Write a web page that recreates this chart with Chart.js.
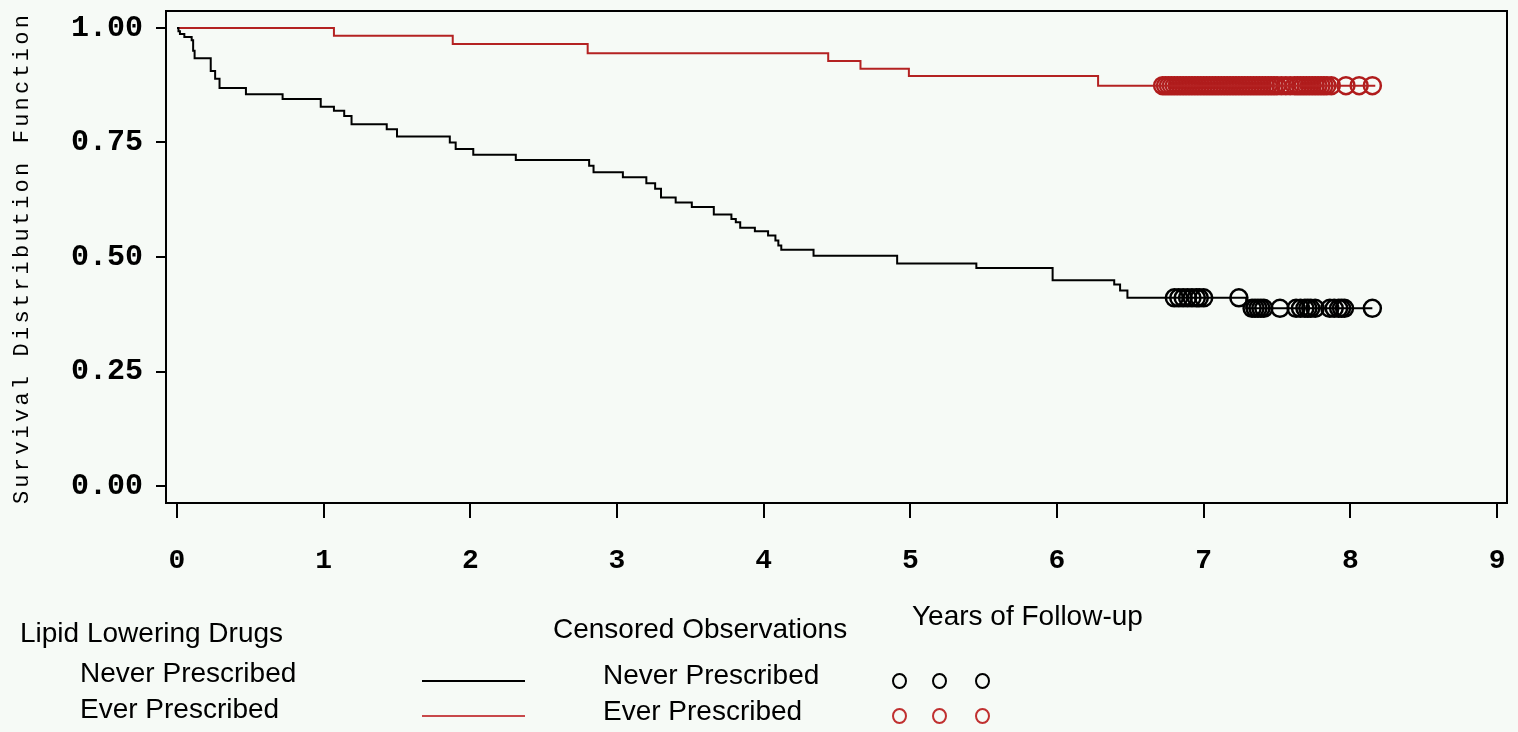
<!DOCTYPE html>
<html>
<head>
<meta charset="utf-8">
<script src="https://cdn.jsdelivr.net/npm/chart.js@4.4.1/dist/chart.umd.min.js"></script>
<style>
  body { margin: 0; background: #f6faf6; }
  #wrap { position: relative; width: 1518px; height: 732px; }
  canvas { position: absolute; left: 0; top: 0; }
  .txt { position: absolute; font-family: "Liberation Sans", Arial, sans-serif; font-size: 28px; line-height: 28px; color: #000; white-space: nowrap; }
  .lline { position: absolute; width: 103px; height: 2px; }
  .circ { position: absolute; width: 11px; height: 12px; border-radius: 50%; border: 2.5px solid; box-sizing: content-box; }
</style>
</head>
<body>
<div id="wrap">
  <canvas id="km" width="1518" height="732"></canvas>
  <div class="txt" style="left:912px;top:602px">Years of Follow-up</div>
  <div class="txt" style="left:20px;top:619px">Lipid Lowering Drugs</div>
  <div class="txt" style="left:80px;top:659px">Never Prescribed</div>
  <div class="txt" style="left:80px;top:695px">Ever Prescribed</div>
  <div class="lline" style="left:422px;top:680px;background:#000"></div>
  <div class="lline" style="left:422px;top:715px;background:#c8484a"></div>
  <div class="txt" style="left:553px;top:615px">Censored Observations</div>
  <div class="txt" style="left:603px;top:661px">Never Prescribed</div>
  <div class="txt" style="left:603px;top:697px">Ever Prescribed</div>
  <div class="circ" style="left:892px;top:673px;border-color:#000"></div>
  <div class="circ" style="left:932px;top:673px;border-color:#000"></div>
  <div class="circ" style="left:975px;top:673px;border-color:#000"></div>
  <div class="circ" style="left:892px;top:708px;border-color:#c03030"></div>
  <div class="circ" style="left:932px;top:708px;border-color:#c03030"></div>
  <div class="circ" style="left:975px;top:708px;border-color:#c03030"></div>
</div>
<script>
// tick labels
const xTicks = [0, 1, 2, 3, 4, 5, 6, 7, 8, 9];
const yTicks = [0, 0.25, 0.5, 0.75, 1];

// Never prescribed - step curve
const neverTime = [0, 0.01, 0.02, 0.05, 0.10, 0.11, 0.12, 0.23, 0.26, 0.29,
  0.47, 0.72, 0.98, 1.07, 1.14, 1.19, 1.43, 1.50, 1.86, 1.90,
  2.02, 2.31, 2.81, 2.84, 3.04, 3.20, 3.26, 3.30, 3.40, 3.51,
  3.66, 3.78, 3.81, 3.84, 3.94, 4.03, 4.08, 4.10, 4.12, 4.34,
  4.91, 5.45, 5.97, 6.39, 6.43, 6.48, 7.29, 8.15];
const neverSurv = [1.000, 0.993, 0.987, 0.980, 0.973, 0.950, 0.934, 0.906, 0.889, 0.869,
  0.855, 0.845, 0.828, 0.819, 0.808, 0.790, 0.779, 0.763, 0.750, 0.736,
  0.723, 0.712, 0.699, 0.685, 0.674, 0.661, 0.649, 0.630, 0.619, 0.609,
  0.593, 0.583, 0.576, 0.564, 0.556, 0.547, 0.536, 0.525, 0.516, 0.503,
  0.486, 0.476, 0.449, 0.440, 0.427, 0.411, 0.388, 0.388];
const neverCensored = [6.80, 6.83, 6.86, 6.89, 6.92, 6.95, 6.97, 7.00, 7.24,
  7.33, 7.35, 7.37, 7.39, 7.41, 7.52, 7.63, 7.66, 7.69, 7.71, 7.73, 7.76,
  7.86, 7.89, 7.92, 7.94, 7.96, 8.15];

// Ever prescribed - step curve
const everTime = [0, 1.07, 1.88, 2.80, 4.44, 4.66, 4.99, 6.28, 8.17];
const everSurv = [1.000, 0.983, 0.965, 0.945, 0.928, 0.911, 0.895, 0.874, 0.874];
const everCensored = [6.72, 6.74, 6.76, 6.78, 6.80, 6.82, 6.84, 6.86, 6.88, 6.90,
  6.92, 6.94, 6.96, 6.98, 7.00, 7.02, 7.04, 7.06, 7.08, 7.10,
  7.12, 7.14, 7.16, 7.18, 7.20, 7.22, 7.24, 7.26, 7.28, 7.30,
  7.32, 7.34, 7.36, 7.38, 7.40, 7.42, 7.44, 7.46, 7.48, 7.50,
  7.53, 7.56, 7.59, 7.62, 7.64, 7.66, 7.68, 7.70, 7.72, 7.74,
  7.76, 7.78, 7.80, 7.82, 7.84, 7.87, 7.97, 8.06, 8.15];

// nilai survival pada waktu t (dari kurva step)
const survAt = (times, surv, t) => {
  let v = surv[0];
  for (let i = 0; i < times.length; i++) {
    if (times[i] <= t) v = surv[i];
  }
  return v;
};

const toPoints = (times, surv) => times.map((t, i) => ({ x: t, y: surv[i] }));
const censPoints = (cens, times, surv) => cens.map((t) => ({ x: t, y: survAt(times, surv, t) }));

const tickFont = { family: "'Liberation Mono', 'DejaVu Sans Mono', monospace", weight: "bold" };

// frame + judul sumbu y
const framePlugin = {
  id: "frame",
  afterDraw(chart) {
    const { ctx, chartArea: a } = chart;
    ctx.save();
    ctx.strokeStyle = "#000";
    ctx.lineWidth = 2;
    ctx.strokeRect(a.left, a.top, a.right - a.left, a.bottom - a.top);
    ctx.translate(22, 258);
    ctx.rotate(-Math.PI / 2);
    ctx.letterSpacing = "3.2px";
    ctx.font = "22px 'Liberation Mono', monospace";
    ctx.fillStyle = "#000";
    ctx.textAlign = "center";
    ctx.textBaseline = "middle";
    ctx.fillText("Survival Distribution Function", 0, 0);
    ctx.restore();
  },
};

new Chart(document.getElementById("km"), {
  type: "scatter",
  data: {
    datasets: [
      {
        label: "Never Prescribed",
        data: toPoints(neverTime, neverSurv),
        showLine: true,
        stepped: true,
        borderColor: "#000",
        borderWidth: 2,
        pointRadius: 0,
      },
      {
        label: "Ever Prescribed",
        data: toPoints(everTime, everSurv),
        showLine: true,
        stepped: true,
        borderColor: "#b42222",
        borderWidth: 2,
        pointRadius: 0,
      },
      {
        label: "Never censored",
        data: censPoints(neverCensored, neverTime, neverSurv),
        pointRadius: 8.5,
        pointBorderWidth: 2.5,
        borderColor: "#000",
        backgroundColor: "rgba(0,0,0,0)",
      },
      {
        label: "Ever censored",
        data: censPoints(everCensored, everTime, everSurv),
        pointRadius: 8.5,
        pointBorderWidth: 2.5,
        borderColor: "#b01c1c",
        backgroundColor: "rgba(0,0,0,0)",
      },
    ],
  },
  options: {
    responsive: false,
    animation: false,
    layout: { padding: { top: 10, right: 8, left: 0, bottom: 0 } },
    plugins: { legend: { display: false }, tooltip: { enabled: false } },
    scales: {
      x: {
        type: "linear",
        min: -0.075,
        max: 9.068,
        afterBuildTicks: (axis) => { axis.ticks = xTicks.map((v) => ({ value: v })); },
        afterFit: (s) => { s.height = 229; s.paddingLeft = 0; s.paddingRight = 0; },
        grid: { drawOnChartArea: false, drawTicks: true, tickLength: 15, color: "#000", lineWidth: 2 },
        border: { display: true, color: "#000", width: 2 },
        ticks: { color: "#000", padding: 26, font: { ...tickFont, size: 28 }, callback: (v) => v },
      },
      y: {
        min: -0.037,
        max: 1.037,
        afterBuildTicks: (axis) => { axis.ticks = yTicks.map((v) => ({ value: v })); },
        afterFit: (s) => { s.width = 166; s.paddingTop = 0; s.paddingBottom = 0; },
        grid: { drawOnChartArea: false, drawTicks: true, tickLength: 10, color: "#000", lineWidth: 2 },
        border: { display: true, color: "#000", width: 2 },
        ticks: { color: "#000", padding: 13, font: { ...tickFont, size: 30 }, callback: (v) => v.toFixed(2) },
      },
    },
  },
  plugins: [framePlugin],
});
</script>
</body>
</html>
